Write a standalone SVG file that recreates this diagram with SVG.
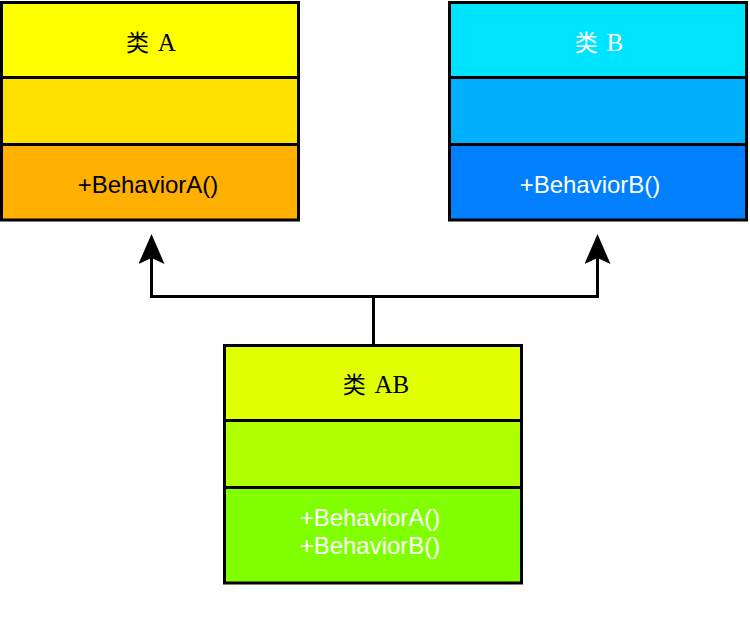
<svg xmlns="http://www.w3.org/2000/svg" width="750" height="624" viewBox="0 0 750 624">
<defs>
<marker id="arrow" markerUnits="userSpaceOnUse" markerWidth="30" markerHeight="26" viewBox="0 0 30 26" refX="6" refY="13" orient="auto">
<path d="M0,0 L30,13 L0,26 L6,13 Z" fill="#000"/>
</marker>
</defs>
<style>
.box{stroke:#000;stroke-width:3}
.div{stroke:#000;stroke-width:3}
.title{font-family:"Liberation Serif","Noto Sans CJK SC",serif;font-size:23px;text-anchor:middle}
.meth{font-family:"Liberation Sans",Arial,sans-serif;font-size:24px;text-anchor:middle}
.conn{fill:none;stroke:#000;stroke-width:3}
</style>
<rect width="750" height="624" fill="#fff"/>
<g id="classA">
<rect x="1.5" y="2.5" width="297" height="75" fill="#FFFF00"/>
<rect x="1.5" y="77.5" width="297" height="67" fill="#FFE000"/>
<rect x="1.5" y="144.5" width="297" height="75.5" fill="#FFB000"/>
<rect class="box" x="1.5" y="2.5" width="297" height="217.5" fill="none"/>
<line class="div" x1="1.5" y1="77.5" x2="298.5" y2="77.5"/>
<line class="div" x1="1.5" y1="144.5" x2="298.5" y2="144.5"/>
<text class="title" x="151" y="51" fill="#000">类 <tspan dx="3" font-size="25">A</tspan></text>
<text class="meth" x="148" y="193" fill="#000">+BehaviorA()</text>
</g>
<g id="classB">
<rect x="449.5" y="2.5" width="297" height="75" fill="#00E5FF"/>
<rect x="449.5" y="77.5" width="297" height="67" fill="#00B0FF"/>
<rect x="449.5" y="144.5" width="297" height="75.5" fill="#0080FF"/>
<rect class="box" x="449.5" y="2.5" width="297" height="217.5" fill="none"/>
<line class="div" x1="449.5" y1="77.5" x2="746.5" y2="77.5"/>
<line class="div" x1="449.5" y1="144.5" x2="746.5" y2="144.5"/>
<text class="title" x="599" y="51" fill="#fff">类 <tspan dx="3" font-size="25">B</tspan></text>
<text class="meth" x="590" y="193" fill="#fff">+BehaviorB()</text>
</g>
<g id="classAB">
<rect x="224.5" y="345.5" width="297" height="75" fill="#E0FF00"/>
<rect x="224.5" y="420.5" width="297" height="67" fill="#B0FF00"/>
<rect x="224.5" y="487.5" width="297" height="95.5" fill="#80FF00"/>
<rect class="box" x="224.5" y="345.5" width="297" height="237.5" fill="none"/>
<line class="div" x1="224.5" y1="420.5" x2="521.5" y2="420.5"/>
<line class="div" x1="224.5" y1="487.5" x2="521.5" y2="487.5"/>
<text class="title" x="376" y="393" fill="#000">类 <tspan dx="3" font-size="25">AB</tspan></text>
<text class="meth" x="370" y="526" fill="#fff">+BehaviorA()</text>
<text class="meth" x="370" y="554" fill="#fff">+BehaviorB()</text>
</g>
<g id="connectors">
<path class="conn" d="M373.5,344 V296.5 H151.5 V258" marker-end="url(#arrow)"/>
<path class="conn" d="M373.5,296.5 H597.5 V258" marker-end="url(#arrow)"/>
</g>
</svg>
